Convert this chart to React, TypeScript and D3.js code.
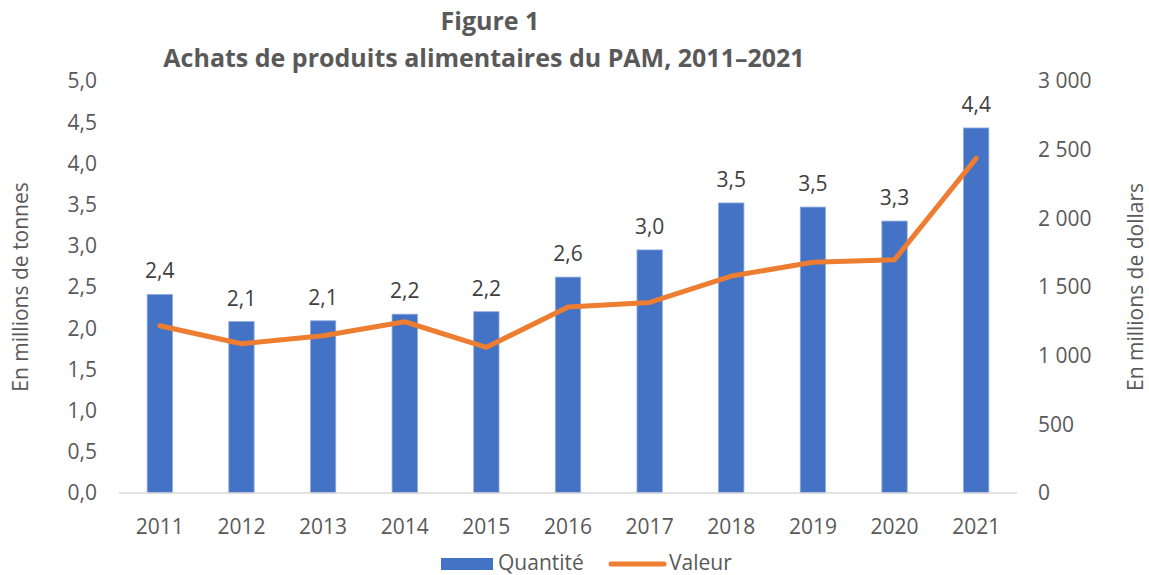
import React from "react";
import * as d3 from "d3";

const years = ["2011", "2012", "2013", "2014", "2015", "2016", "2017", "2018", "2019", "2020", "2021"];
const quantite = [2.41, 2.08, 2.09, 2.17, 2.2, 2.62, 2.95, 3.52, 3.47, 3.3, 4.43];
const valeur = [1218, 1087, 1145, 1247, 1061, 1354, 1388, 1580, 1680, 1699, 2437];
const leftTicks = [0, 0.5, 1, 1.5, 2, 2.5, 3, 3.5, 4, 4.5, 5];
const rightTicks = [0, 500, 1000, 1500, 2000, 2500, 3000];

const W = 1149;
const H = 575;
const FONT = "'Open Sans', 'Noto Sans', sans-serif";
const GREY = "#595959";

export default function App() {
  const x = d3.scaleBand().domain(years).range([119, 1017]).paddingInner(0.69).paddingOuter(0.345);
  const yL = d3.scaleLinear().domain([0, 5]).range([493, 81]);
  const yR = d3.scaleLinear().domain([0, 3000]).range([493, 81]);
  const comma = (v: number) => v.toFixed(1).replace(".", ",");
  const spaced = (v: number) => d3.format(",")(v).replace(/,/g, " ");

  const line = d3
    .line<number>()
    .x((_, i) => (x(years[i]) as number) + x.bandwidth() / 2)
    .y((d) => yR(d));

  return (
    <svg width={W} height={H} style={{ position: "absolute", left: 0, top: 0, background: "#fff" }} fontFamily={FONT}>
      <text x={490} y={30} textAnchor="middle" fontSize={25} fontWeight="bold" fill={GREY}>
        Figure 1
      </text>
      <text x={484} y={67} textAnchor="middle" fontSize={25} fontWeight="bold" fill={GREY}>
        Achats de produits alimentaires du PAM, 2011–2021
      </text>

      {leftTicks.map((t) => (
        <text key={"l" + t} x={97} y={yL(t)} dy="0.35em" textAnchor="end" fontSize={21} fill={GREY}>
          {comma(t)}
        </text>
      ))}
      {rightTicks.map((t) => (
        <text key={"r" + t} x={1038} y={yR(t)} dy="0.35em" textAnchor="start" fontSize={21} fill={GREY}>
          {spaced(t)}
        </text>
      ))}

      <text transform={`translate(28,${yL(2.5)}) rotate(-90)`} textAnchor="middle" fontSize={21} fill={GREY}>
        En millions de tonnes
      </text>
      <text transform={`translate(1143,${yL(2.5)}) rotate(-90)`} textAnchor="middle" fontSize={21} fill={GREY}>
        En millions de dollars
      </text>

      {years.map((yr, i) => (
        <g key={yr}>
          <rect
            x={x(yr)}
            y={yL(quantite[i])}
            width={x.bandwidth()}
            height={yL(0) - yL(quantite[i])}
            fill="#4472C4"
            stroke="#8faadc"
            strokeWidth={0.8}
          />
          <text
            x={(x(yr) as number) + x.bandwidth() / 2}
            y={yL(quantite[i]) - 16}
            textAnchor="middle"
            fontSize={21}
            fill="#404040"
          >
            {comma(quantite[i])}
          </text>
          <text
            x={(x(yr) as number) + x.bandwidth() / 2}
            y={534}
            textAnchor="middle"
            fontSize={21}
            fill={GREY}
          >
            {yr}
          </text>
        </g>
      ))}

      <line x1={119} x2={1017} y1={yL(0)} y2={yL(0)} stroke="#d9d9d9" strokeWidth={1.5} />

      <path d={line(valeur) || ""} fill="none" stroke="#ED7D31" strokeWidth={5} strokeLinejoin="round" strokeLinecap="round" />

      <rect x={441} y={558} width={52} height={12} fill="#4472C4" />
      <text x={498} y={570} fontSize={21} fill={GREY}>
        Quantité
      </text>
      <line x1={611} x2={664} y1={564} y2={564} stroke="#ED7D31" strokeWidth={5} strokeLinecap="round" />
      <text x={669} y={570} fontSize={21} fill={GREY}>
        Valeur
      </text>
    </svg>
  );
}
